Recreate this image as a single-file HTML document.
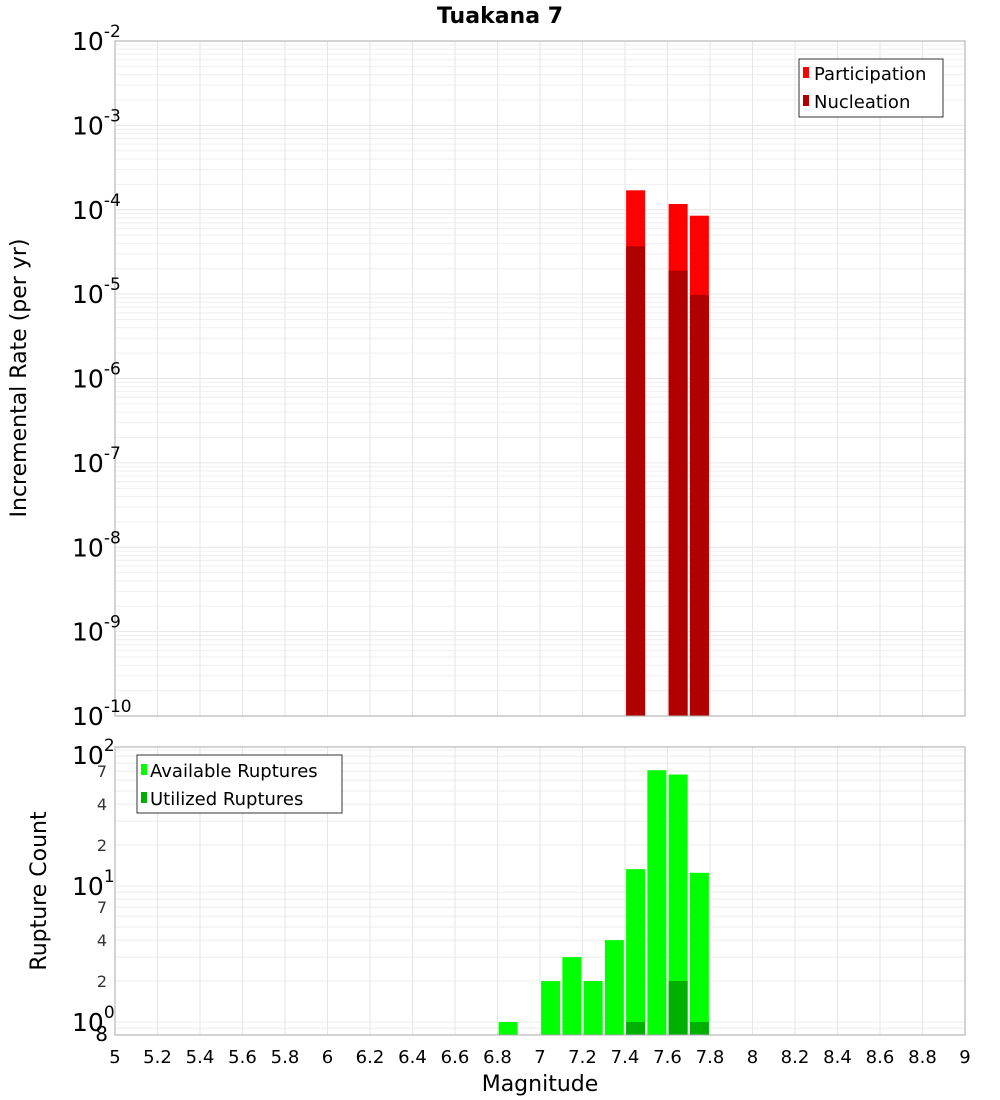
<!DOCTYPE html>
<html><head><meta charset="utf-8"><style>
body{margin:0;background:#fff;}
svg{display:block;font-family:"Liberation Sans","DejaVu Sans",sans-serif;}
</style></head><body>
<svg id="chart" width="1000" height="1100" xmlns="http://www.w3.org/2000/svg">
<text x="500" y="23" text-anchor="middle" font-size="22" font-weight="bold" font-family="DejaVu Sans, sans-serif">Tuakana 7</text>
<g id="topg"></g>
<g id="botg"></g>
</svg>
<script>
const mags = [7.45, 7.65, 7.75];
const participation = [1.7e-4, 1.17e-4, 8.5e-5];
const nucleation = [3.7e-5, 1.9e-5, 9.8e-6];
const countMags = [6.85, 7.05, 7.15, 7.25, 7.35, 7.45, 7.55, 7.65, 7.75];
const available = [1, 2, 3, 2, 4, 13.3, 71, 66, 12.5];
const utilMags = [7.45, 7.65, 7.75];
const utilized = [1, 2, 1];
const xTicks = [5,5.2,5.4,5.6,5.8,6,6.2,6.4,6.6,6.8,7,7.2,7.4,7.6,7.8,8,8.2,8.4,8.6,8.8,9];
const topExps = [-2,-3,-4,-5,-6,-7,-8,-9,-10];
const botExps = [2,1,0];
const botMinor = [7,4,2];

const NS="http://www.w3.org/2000/svg";
const X0=115,X1=965;
const x=m=>X0+(m-5)/4*(X1-X0);
const T0=41,T1=716;
const yT=v=>T0+(-2-Math.log10(v))/8*(T1-T0);
const B0=747,B1=1035;
const yB=v=>1022-Math.log10(v)*136;
function mk(p,tag,a,txt){const e=document.createElementNS(NS,tag);for(const k in a)e.setAttribute(k,a[k]);if(txt!==undefined)e.textContent=txt;p.appendChild(e);return e;}
const topG=document.getElementById('topg'),botG=document.getElementById('botg');

for(let e=-10;e<-2;e++)for(let k=1;k<10;k++){const v=k*Math.pow(10,e);const yy=yT(v);
 const l=mk(topG,'line',{x1:X0,x2:X1,y1:yy,y2:yy,stroke:k==1?'#e6e6e6':'#efefef','stroke-width':1});
 
 }
xTicks.forEach(t=>{const l=mk(topG,'line',{x1:x(t),x2:x(t),y1:T0,y2:T1,stroke:'#e6e6e6'});
 
 });
mags.forEach((m,i)=>{
 const r=mk(topG,'rect',{x:x(m)-9.5,y:yT(participation[i]),width:19,height:T1-yT(participation[i]),fill:'#ff0000'});
 
 
 const n=mk(topG,'rect',{x:x(m)-9.5,y:yT(nucleation[i]),width:19,height:T1-yT(nucleation[i]),fill:'#b00000'});
 
 
});
const tf=mk(topG,'rect',{x:X0,y:T0,width:X1-X0,height:T1-T0,fill:'none',stroke:'#aaa'});


topExps.forEach(e=>{const yy=yT(Math.pow(10,e));
 const t=mk(topG,'text',{x:72,y:yy+9,'font-size':25,'font-family':'DejaVu Sans, sans-serif'});
 
 
 mk(t,'tspan',{},'10');mk(t,'tspan',{dy:-13,'font-size':17},String(e));});
const yl=mk(topG,'text',{x:26,y:378,'font-size':22,'text-anchor':'middle',transform:'rotate(-90 26 378)','font-family':'DejaVu Sans, sans-serif'},'Incremental Rate (per yr)');


const lg=mk(topG,'g',{});


mk(lg,'rect',{x:799,y:59,width:144,height:58,fill:'#fff',stroke:'#333'});
mk(lg,'rect',{x:803,y:67,width:6,height:11,fill:'#ff0000'});
mk(lg,'text',{x:814,y:80,'font-size':18,'font-family':'DejaVu Sans, sans-serif'},'Participation');
mk(lg,'rect',{x:803,y:95,width:6,height:11,fill:'#b00000'});
mk(lg,'text',{x:814,y:108,'font-size':18,'font-family':'DejaVu Sans, sans-serif'},'Nucleation');

[0.8,0.9,1,2,3,4,5,6,7,8,9,10,20,30,40,50,60,70,80,90,100].forEach(v=>{const yy=yB(v);if(yy<B0||yy>B1)return;
 const l=mk(botG,'line',{x1:X0,x2:X1,y1:yy,y2:yy,stroke:'#ececec'});
 
 });
xTicks.forEach(t=>{const l=mk(botG,'line',{x1:x(t),x2:x(t),y1:B0,y2:B1,stroke:'#e6e6e6'});
 
 });
countMags.forEach((m,i)=>{const r=mk(botG,'rect',{x:x(m)-9.5,y:yB(available[i]),width:19,height:B1-yB(available[i]),fill:'#00ff00'});
 
 });
utilMags.forEach((m,i)=>{const r=mk(botG,'rect',{x:x(m)-9.5,y:yB(utilized[i]),width:19,height:B1-yB(utilized[i]),fill:'#00b000'});
 
 });
const bf=mk(botG,'rect',{x:X0,y:B0,width:X1-X0,height:B1-B0,fill:'none',stroke:'#aaa'});


botExps.forEach(e=>{const yy=Math.max(yB(Math.pow(10,e)),755);
 const t=mk(botG,'text',{x:72,y:yy+9,'font-size':25,'font-family':'DejaVu Sans, sans-serif'});
 
 
 mk(t,'tspan',{},'10');mk(t,'tspan',{dy:-13,'font-size':17},String(e));});
[10,1].forEach(d=>botMinor.forEach(k=>{const t=mk(botG,'text',{x:107,y:yB(k*d)+6,'font-size':16,'text-anchor':'end','fill':'#333','font-family':'DejaVu Sans, sans-serif'},String(k));
 
 }));
const e8=mk(botG,'text',{x:108,y:1041,'font-size':20,'text-anchor':'end','font-family':'DejaVu Sans, sans-serif'},'8');


const yl2=mk(botG,'text',{x:46,y:891,'font-size':22,'text-anchor':'middle',transform:'rotate(-90 46 891)','font-family':'DejaVu Sans, sans-serif'},'Rupture Count');


xTicks.forEach(t=>{const s=mk(botG,'text',{x:x(t),y:1063,'font-size':18,'text-anchor':'middle','font-family':'DejaVu Sans, sans-serif'},String(t));
 
 });
const xl=mk(botG,'text',{x:540,y:1091,'font-size':22,'text-anchor':'middle','font-family':'DejaVu Sans, sans-serif'},'Magnitude');


const lg2=mk(botG,'g',{});


mk(lg2,'rect',{x:137,y:755,width:205,height:58,fill:'#fff',stroke:'#333'});
mk(lg2,'rect',{x:141,y:764,width:6,height:11,fill:'#00ff00'});
mk(lg2,'text',{x:150,y:777,'font-size':18,'font-family':'DejaVu Sans, sans-serif'},'Available Ruptures');
mk(lg2,'rect',{x:141,y:792,width:6,height:11,fill:'#00b000'});
mk(lg2,'text',{x:150,y:805,'font-size':18,'font-family':'DejaVu Sans, sans-serif'},'Utilized Ruptures');
</script>
</body></html>
